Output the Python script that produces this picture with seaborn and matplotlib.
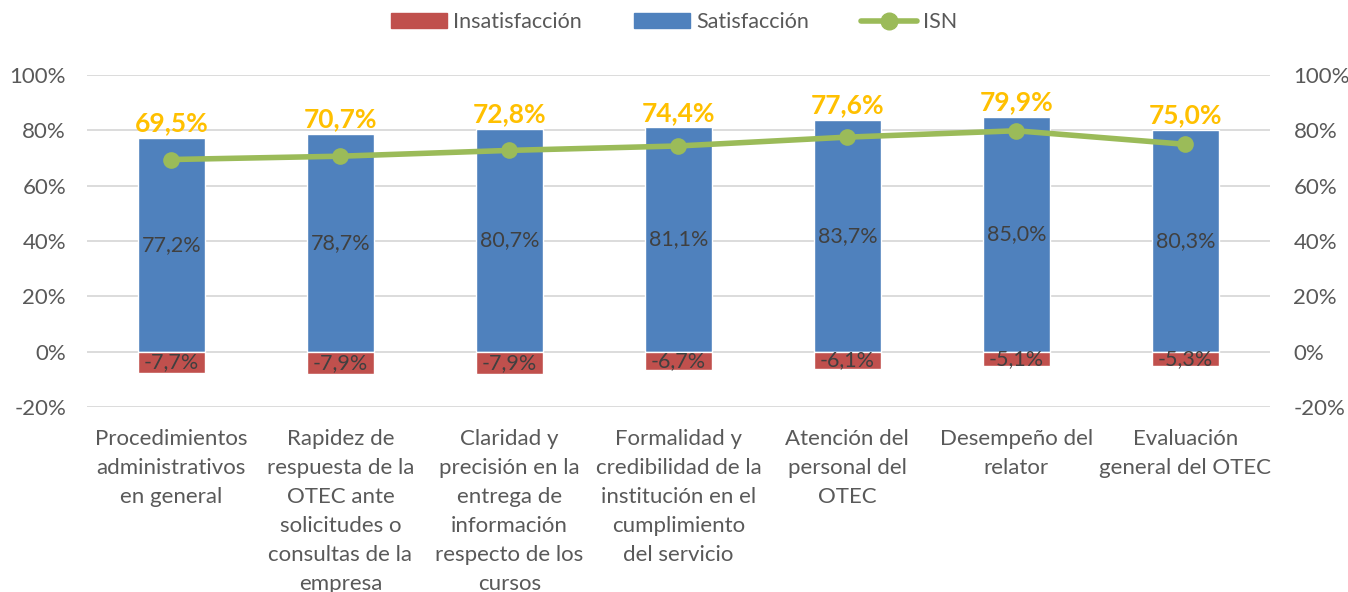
import matplotlib
matplotlib.use('Agg')
import matplotlib.pyplot as plt
import seaborn as sns
import pandas as pd
from matplotlib.patches import Patch
from matplotlib.lines import Line2D

categorias = ['Procedimientos\nadministrativos\nen general',
              'Rapidez de\nrespuesta de la\nOTEC ante\nsolicitudes o\nconsultas de la\nempresa',
              'Claridad y\nprecisión en la\nentrega de\ninformación\nrespecto de los\ncursos',
              'Formalidad y\ncredibilidad de la\ninstitución en el\ncumplimiento\ndel servicio',
              'Atención del\npersonal del\nOTEC',
              'Desempeño del\nrelator',
              'Evaluación\ngeneral del OTEC']
satisfaccion = [77.2, 78.7, 80.7, 81.1, 83.7, 85.0, 80.3]
insatisfaccion = [-7.7, -7.9, -7.9, -6.7, -6.1, -5.1, -5.3]
isn = [69.5, 70.7, 72.8, 74.4, 77.6, 79.9, 75.0]
yticks = [-20, 0, 20, 40, 60, 80, 100]

rojo = '#C0504D'
azul = '#4F81BD'
verde = '#9BBB59'
amarillo = '#FFC000'
gris = '#595959'

sns.set_style('white')
plt.rcParams['font.family'] = ['Lato', 'DejaVu Sans']

df = pd.DataFrame({'cat': categorias, 'sat': satisfaccion,
                   'ins': insatisfaccion, 'isn': isn})

fig = plt.figure(figsize=(13.48, 5.92), dpi=100)
ax = fig.add_axes([0.0645, 0.3125, 0.8775, 0.5605])

sns.barplot(data=df, x='cat', y='sat', color=azul, width=0.4, saturation=1,
            ax=ax, zorder=2)
sns.barplot(data=df, x='cat', y='ins', color=rojo, width=0.4, saturation=1,
            ax=ax, zorder=2)

fmt = lambda v: '{:.1f}%'.format(v).replace('.', ',')

# etiquetas dentro de las barras
ax.bar_label(ax.containers[0], labels=[fmt(v) for v in satisfaccion],
             label_type='center', color='#404040', fontsize=15.5)
ax.bar_label(ax.containers[1], labels=[fmt(v) for v in insatisfaccion],
             label_type='center', color='#404040', fontsize=15.5)

ax.set_ylim(-20, 100)
ax.set_xlim(-0.5, 6.5)
ax.set_yticks(yticks)
ax.set_yticklabels(['{}%'.format(t) for t in yticks])
ax.yaxis.grid(True, color='#D9D9D9', linewidth=1.3, zorder=0)
ax.set_axisbelow(True)
ax.set_xlabel('')
ax.set_ylabel('')
for s in ax.spines.values():
    s.set_visible(False)
ax.tick_params(axis='both', length=0, labelsize=16, colors=gris, pad=15)
ax.tick_params(axis='x', pad=16)
for lbl in ax.get_xticklabels():
    lbl.set_linespacing(1.56)
    lbl.set_va('top')

# ISN en eje secundario
ax2 = ax.twinx()
sns.lineplot(x=range(len(isn)), y=isn, color=verde, linewidth=4,
             marker='o', markersize=12, markeredgewidth=0, ax=ax2, zorder=3)
ax2.set_ylim(-20, 100)
ax2.set_yticks(yticks)
ax2.set_yticklabels(['{}%'.format(t) for t in yticks])
ax2.tick_params(axis='y', length=0, labelsize=16, colors=gris, pad=17)
for s in ax2.spines.values():
    s.set_visible(False)

for i, (s, v) in enumerate(zip(satisfaccion, isn)):
    ax2.text(i, s + 1.0, fmt(v), ha='center', va='bottom', color=amarillo,
             fontsize=19, fontweight='bold')

handles = [Patch(color=rojo), Patch(color=azul),
           Line2D([0], [0], color=verde, linewidth=4, marker='o', markersize=12)]
fig.legend(handles, ['Insatisfacción', 'Satisfacción', 'ISN'], loc='upper center',
           bbox_to_anchor=(0.5, 1.012), ncol=3, frameon=False, fontsize=15.5,
           labelcolor=gris, handlelength=2.6, handleheight=0.7,
           columnspacing=2.4, handletextpad=0.3)

fig.savefig('out.png', dpi=100)
